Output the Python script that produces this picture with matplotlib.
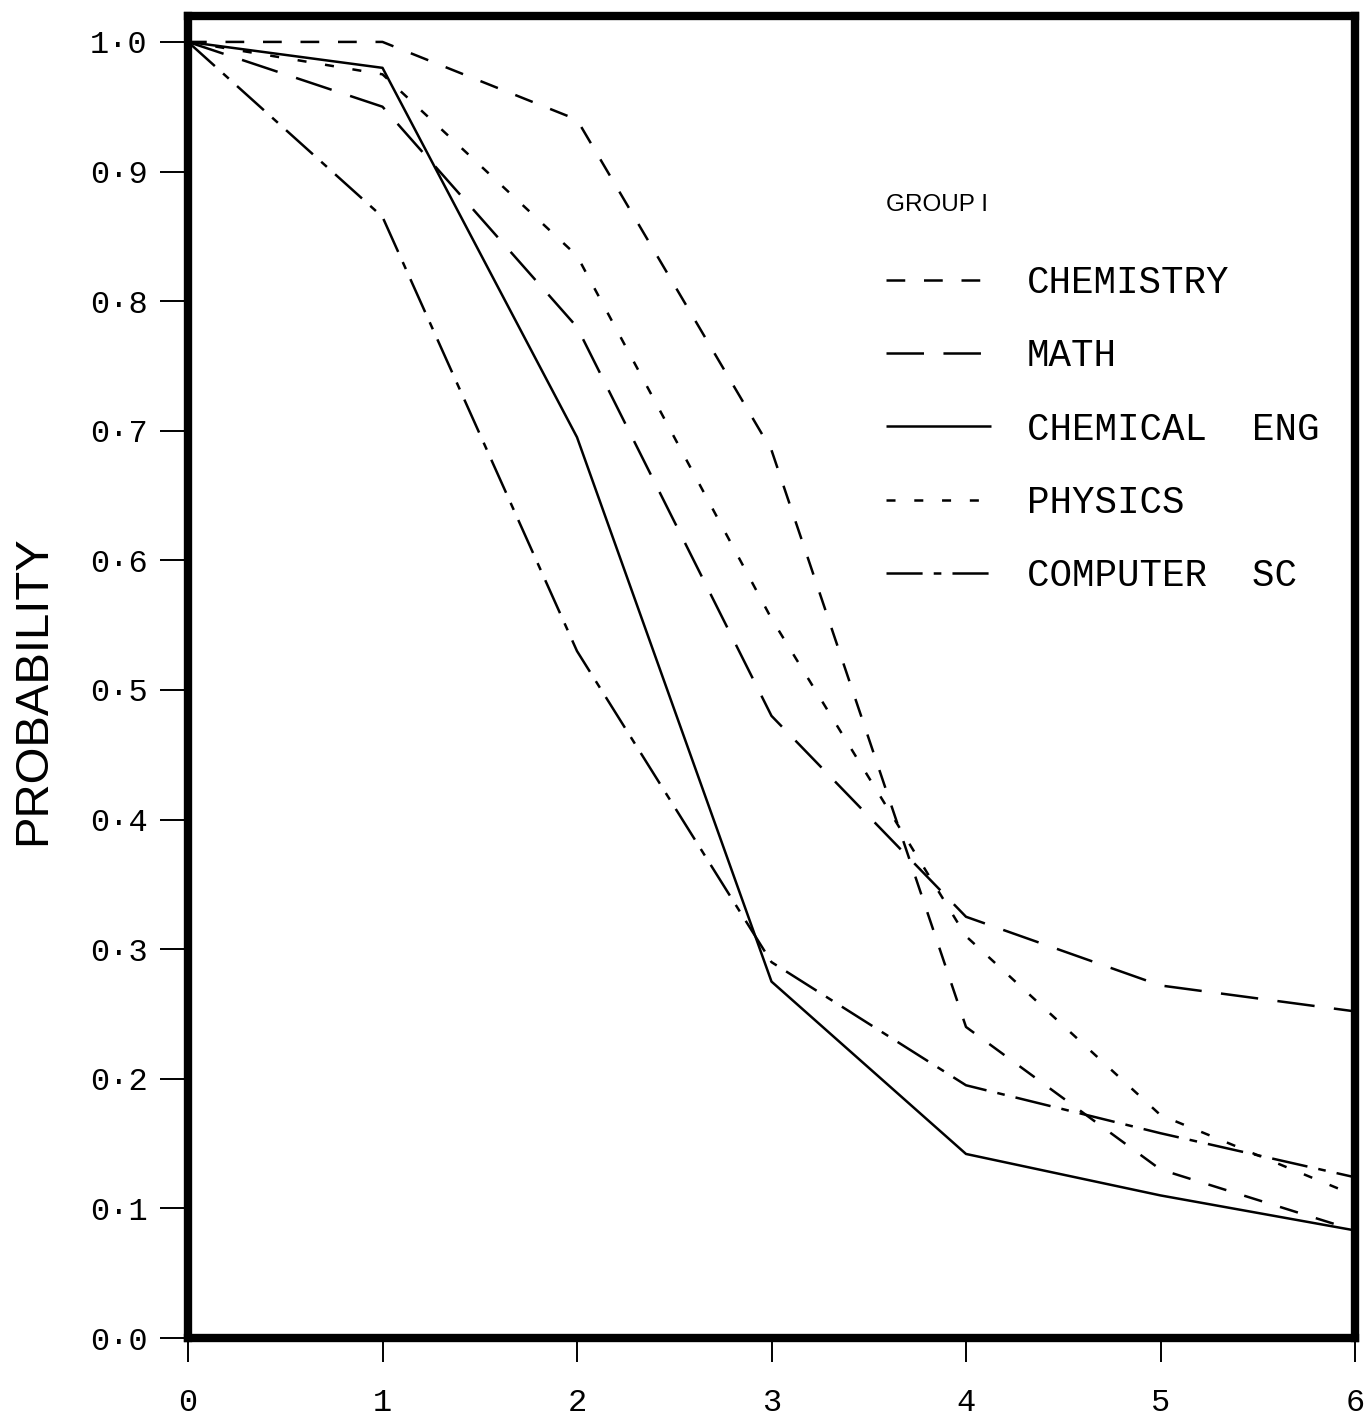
import matplotlib
matplotlib.use("Agg")
import matplotlib.pyplot as plt

# ---- data ----
years = [0, 1, 2, 3, 4, 5, 6]
chemistry = [1.0, 1.0, 0.94, 0.685, 0.24, 0.13, 0.083]
math_ = [1.0, 0.95, 0.78, 0.48, 0.325, 0.272, 0.252]
chem_eng = [1.0, 0.98, 0.695, 0.275, 0.142, 0.11, 0.083]
physics = [1.0, 0.975, 0.835, 0.555, 0.31, 0.172, 0.11]
comp_sc = [1.0, 0.865, 0.53, 0.29, 0.195, 0.158, 0.124]
series_labels = ["CHEMISTRY", "MATH", "CHEMICAL  ENG", "PHYSICS", "COMPUTER  SC"]
y_ticks = [0.0, 0.1, 0.2, 0.3, 0.4, 0.5, 0.6, 0.7, 0.8, 0.9, 1.0]
x_ticks = [0, 1, 2, 3, 4, 5, 6]

plt.rcParams['lines.scale_dashes'] = False

W, H, DPI = 1367, 1420, 100
fig = plt.figure(figsize=(W / DPI, H / DPI), dpi=DPI)
L, R, B, T = 188, 1355, 1338, 16
ax = fig.add_axes([L / W, 1 - B / H, (R - L) / W, (B - T) / H])

lw = 1.8
styles = [
    (chemistry, (0, (13.5, 13.5))),
    (math_, (0, (27, 14))),
    (chem_eng, '-'),
    (physics, (0, (6.5, 13.5))),
    (comp_sc, (0, (26, 8, 5.5, 8))),
]
for (vals, ls), lab in zip(styles, series_labels):
    ax.plot(years, vals, color='black', lw=lw, linestyle=ls, label=lab,
            solid_capstyle='butt', dash_capstyle='butt')

ax.set_xlim(0, 6)
ax.set_ylim(0, 1.02)

for s in ax.spines.values():
    s.set_linewidth(6)
    s.set_color('black')

mono = 'Liberation Mono'
ax.set_yticks(y_ticks)
ax.set_yticklabels([f"{v:.1f}".replace('.', '\u00b7') for v in y_ticks],
                   fontfamily=mono, fontsize=23)
ax.set_xticks(x_ticks)
ax.set_xticklabels([str(v) for v in x_ticks], fontfamily=mono, fontsize=23)
ax.tick_params(axis='y', direction='out', length=20, width=1.4, pad=9, color='black')
ax.tick_params(axis='x', direction='out', length=17, width=1.4, pad=19, color='black')

ax.set_ylabel("PROBABILITY", fontfamily='Liberation Sans', fontsize=34,
              va='center')
ax.yaxis.set_label_coords((33 - L) / (R - L), (B - 690) / (B - T))

bp = 0.59
leg = ax.legend(loc='upper left',
                bbox_to_anchor=((864 - L) / (R - L), (B - 172) / (B - T)),
                frameon=False, prop={'family': mono, 'size': 27},
                handlelength=2.8, handletextpad=0.95, labelspacing=0.99,
                borderpad=bp, borderaxespad=0, title="GROUP I",
                title_fontproperties={'family': 'Liberation Sans', 'size': 17.5})
leg._legend_box.align = 'left'
leg._legend_box.sep = 0.99 * 27 + 12 * 0.72
for ln in leg.get_lines():
    ln.set_linewidth(1.8)

fig.savefig("out.png", dpi=DPI, facecolor='white')
